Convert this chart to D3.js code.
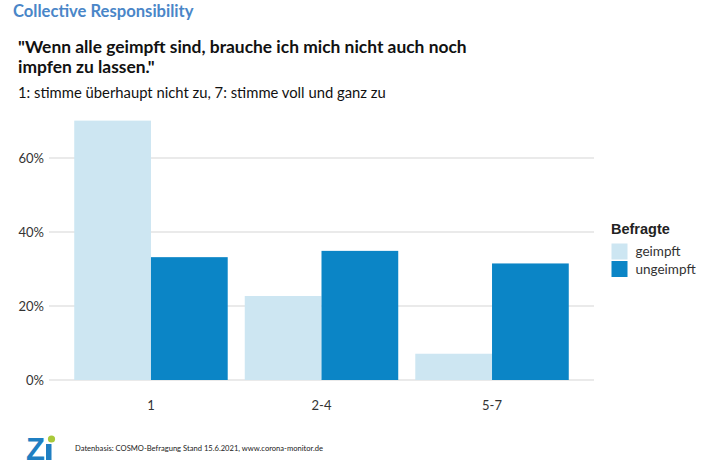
<!DOCTYPE html>
<html><head><meta charset="utf-8">
<script src="https://cdn.jsdelivr.net/npm/d3@7"></script>
<style>body{margin:0;background:#fff}svg{display:block}</style>
</head><body>
<script>
const categories = ["1", "2-4", "5-7"];
const seriesNames = ["geimpft", "ungeimpft"];
const geimpft = [70.1, 22.7, 7.1];
const ungeimpft = [33.2, 34.9, 31.5];
const yTicks = [0, 20, 40, 60];
const colors = ["#cde6f2", "#0b85c6"];

const W = 709, H = 467;
const svg = d3.select("body").append("svg").attr("width", W).attr("height", H);

const x = d3.scaleBand().domain(categories).range([49, 594]).paddingInner(0.1).paddingOuter(0.148);
const xs = d3.scaleBand().domain(seriesNames).range([0, x.bandwidth()]);
const y = d3.scaleLinear().domain([0, 60]).range([380, 158]);

// gridlines
svg.append("g").selectAll("line").data(yTicks).join("line")
  .attr("x1", 49).attr("x2", 594)
  .attr("y1", d => y(d)).attr("y2", d => y(d))
  .attr("stroke", "#d6d6d6").attr("stroke-width", 1.2);

// y axis labels
svg.append("g").selectAll("text").data(yTicks).join("text")
  .attr("x", 44).attr("y", d => y(d)).attr("dy", "0.35em")
  .attr("text-anchor", "end").attr("font-family", "Lato, 'Open Sans', sans-serif")
  .attr("font-size", 13).attr("fill", "#333").text(d => d + "%");

// bars
const data = categories.map((c, i) => ({c, vals: [geimpft[i], ungeimpft[i]]}));
const g = svg.append("g").selectAll("g").data(data).join("g")
  .attr("transform", d => `translate(${x(d.c)},0)`);
g.selectAll("rect").data(d => d.vals.map((v, j) => ({v, s: seriesNames[j], j})))
  .join("rect")
  .attr("x", d => xs(d.s)).attr("width", xs.bandwidth())
  .attr("y", d => y(d.v)).attr("height", d => y(0) - y(d.v))
  .attr("fill", d => colors[d.j]);

// x labels
svg.append("g").selectAll("text").data(categories).join("text")
  .attr("x", d => x(d) + x.bandwidth() / 2).attr("y", 410)
  .attr("text-anchor", "middle").attr("font-family", "Lato, 'Open Sans', sans-serif")
  .attr("font-size", 13).attr("fill", "#333").text(d => d);

// legend
svg.append("text").attr("x", 611).attr("y", 234)
  .attr("font-family", "'Liberation Sans', Arial, sans-serif").attr("font-weight", "bold")
  .attr("font-size", 14.5).attr("fill", "#222").text("Befragte");
const lg = svg.append("g").selectAll("g").data(seriesNames).join("g")
  .attr("transform", (d, i) => `translate(611.5,${243.5 + i * 17.5})`);
lg.append("rect").attr("width", 16).attr("height", 16).attr("fill", (d, i) => colors[i]);
lg.append("text").attr("x", 24).attr("y", 8).attr("dy", "0.35em")
  .attr("font-family", "Lato, 'Open Sans', sans-serif").attr("font-size", 13.5)
  .attr("fill", "#333").text(d => d);

// titles
svg.append("text").attr("x", 13).attr("y", 17)
  .attr("font-family", "Lato, 'Open Sans', sans-serif").attr("font-weight", "bold")
  .attr("font-size", 16.6).attr("fill", "#4a86c8").text("Collective Responsibility");
const tf = {family: "Lato, 'Open Sans', sans-serif"};
svg.append("text").attr("x", 18).attr("y", 53).attr("font-family", tf.family)
  .attr("font-weight", "bold").attr("font-size", 17.4).attr("fill", "#111")
  .text("\"Wenn alle geimpft sind, brauche ich mich nicht auch noch");
svg.append("text").attr("x", 18).attr("y", 73).attr("font-family", tf.family)
  .attr("font-weight", "bold").attr("font-size", 17.4).attr("fill", "#111")
  .text("impfen zu lassen.\"");
svg.append("text").attr("x", 18).attr("y", 98)
  .attr("font-family", tf.family).attr("font-size", 14.8)
  .attr("fill", "#111").text("1: stimme überhaupt nicht zu, 7: stimme voll und ganz zu");

// footer logo
svg.append("text").attr("x", 26).attr("y", 460)
  .attr("font-family", "'Liberation Sans', Arial, sans-serif").attr("font-weight", "bold")
  .attr("font-size", 31).attr("fill", "#1f7fc2").text("Z");
svg.append("rect").attr("x", 46).attr("y", 444).attr("width", 5.5).attr("height", 16).attr("fill", "#1f7fc2");
svg.append("circle").attr("cx", 51.5).attr("cy", 439).attr("r", 3.6).attr("fill", "#a9c93a");
svg.append("text").attr("x", 75).attr("y", 451)
  .attr("font-family", tf.family).attr("font-size", 7.6)
  .attr("fill", "#222").text("Datenbasis: COSMO-Befragung Stand 15.6.2021, www.corona-monitor.de");
</script>
</body></html>
